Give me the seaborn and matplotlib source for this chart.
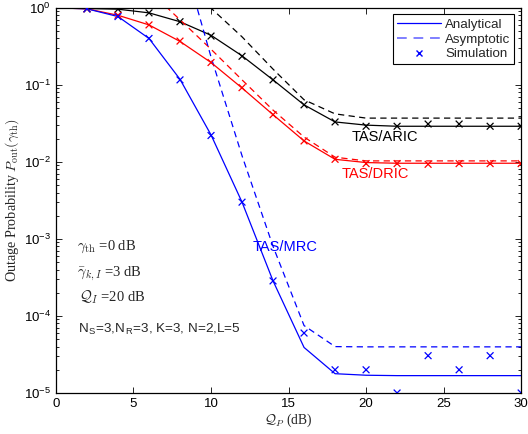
import numpy as np
import pandas as pd
import matplotlib
matplotlib.use("Agg")
import matplotlib.pyplot as plt
from matplotlib.lines import Line2D
import seaborn as sns

# Q_P grid (dB)
qp = [0, 2, 4, 6, 8, 10, 12, 14, 16, 18, 20, 22, 24, 26, 28, 30]
qp_sim = qp[1:]

schemes = ["TAS/ARIC", "TAS/DRIC", "TAS/MRC"]

# Analytical outage probability
ana_aric = [0.999, 0.98, 0.96, 0.86, 0.66, 0.44, 0.238, 0.116, 0.055, 0.033,
            0.030, 0.029, 0.029, 0.029, 0.029, 0.029]
ana_dric = [0.999, 0.97, 0.80, 0.60, 0.366, 0.195, 0.091, 0.041, 0.0187, 0.0108,
            0.0098, 0.0096, 0.0096, 0.0096, 0.0096, 0.0096]
ana_mrc = [0.999, 0.97, 0.77, 0.40, 0.118, 0.0224, 0.0030, 2.85e-4, 3.9e-5, 1.78e-5,
           1.70e-5, 1.68e-5, 1.68e-5, 1.68e-5, 1.68e-5, 1.68e-5]

# Asymptotic (high-SNR) outage probability
asy_aric = [100.0, 40.0, 16.0, 6.3, 2.5, 0.99, 0.42, 0.16, 0.064, 0.042,
            0.037, 0.037, 0.037, 0.037, 0.037, 0.037]
asy_dric = [24.0, 10.0, 4.0, 1.67, 0.70, 0.29, 0.116, 0.047, 0.021, 0.0115,
            0.0103, 0.0103, 0.0103, 0.0103, 0.0103, 0.0103]
asy_mrc = [1e6, 3e4, 2000.0, 110.0, 6.0, 0.23, 0.012, 8.0e-4, 7.5e-5, 4.0e-5,
           3.97e-5, 3.97e-5, 3.97e-5, 3.97e-5, 3.97e-5, 3.97e-5]

# Monte-Carlo simulation
sim_aric = [0.97, 0.96, 0.86, 0.66, 0.43, 0.235, 0.116, 0.055, 0.033, 0.029,
            0.029, 0.031, 0.031, 0.029, 0.029]
sim_dric = [0.97, 0.80, 0.60, 0.37, 0.195, 0.092, 0.041, 0.0187, 0.0108, 0.0095,
            0.0095, 0.0093, 0.0095, 0.0095, 0.0095]
sim_mrc = [0.97, 0.77, 0.40, 0.116, 0.022, 0.0030, 2.85e-4, 6.0e-5, 2.0e-5, 2.0e-5,
           1.0e-5, 3.05e-5, 2.0e-5, 3.05e-5, 1.0e-5]

palette = {"TAS/ARIC": "black", "TAS/DRIC": "#ff0000", "TAS/MRC": "#0000ff"}


def long_form(x, series):
    rows = []
    for name, vals in zip(schemes, series):
        for xv, yv in zip(x, vals):
            rows.append((xv, yv, name))
    return pd.DataFrame(rows, columns=["QP", "Pout", "scheme"])


df_ana = long_form(qp, [ana_aric, ana_dric, ana_mrc])
df_asy = long_form(qp, [asy_aric, asy_dric, asy_mrc])
df_sim = long_form(qp_sim, [sim_aric, sim_dric, sim_mrc])

sns.set_style("ticks")
plt.rcParams["font.family"] = ["Liberation Sans", "DejaVu Sans"]
plt.rcParams["mathtext.fontset"] = "cm"
plt.rcParams["font.size"] = 9
plt.rcParams["lines.dashed_pattern"] = [5.0, 3.5]

fig = plt.figure(figsize=(5.28, 4.34), dpi=100)
ax = fig.add_axes([0.106, 0.0945, 0.881, 0.8875])

sns.lineplot(data=df_ana, x="QP", y="Pout", hue="scheme", palette=palette,
             lw=0.9, legend=False, ax=ax, estimator=None)
sns.lineplot(data=df_asy, x="QP", y="Pout", hue="scheme", palette=palette,
             lw=0.9, linestyle="--", legend=False, ax=ax, estimator=None)
sns.scatterplot(data=df_sim, x="QP", y="Pout", hue="scheme", palette=palette,
                marker="x", s=24, linewidth=0.9, legend=False, ax=ax, zorder=5)

ax.set_yscale("log")
ax.set_xlim(0, 30)
ax.set_ylim(1e-5, 1)
ax.set_xticks([0, 5, 10, 15, 20, 25, 30])
ax.tick_params(axis="both", which="both", direction="in", top=True, right=True,
               labelsize=9.5, colors="black", width=0.6)
ax.tick_params(axis="both", which="major", length=4)
ax.tick_params(axis="y", which="minor", length=2)
ax.tick_params(axis="x", which="minor", bottom=False, top=False)
for sp in ax.spines.values():
    sp.set_linewidth(0.9)
    sp.set_color("black")

ax.set_xlabel(r"$\mathcal{Q}_P$ (dB)", fontfamily="Liberation Serif", fontsize=9.8,
              labelpad=1)
ax.set_ylabel(r"Outage Probability $P_{\rm out}(\gamma_{\rm th})$",
              fontfamily="Liberation Serif", fontsize=10.2, labelpad=2)

# Curve labels
ax.text(21.2, 0.0211, "TAS/ARIC", color="black", fontsize=10.5, ha="center", va="center")
ax.text(20.6, 0.00698, "TAS/DRIC", color="#ff0000", fontsize=10.5, ha="center", va="center")
ax.text(14.8, 7.9e-4, "TAS/MRC", color="#0000ff", fontsize=10.5, ha="center", va="center")

# System parameters
ax.text(1.35, 7.9e-4, r"$\gamma_{\rm th}$ =0 dB", fontfamily="Liberation Serif",
        fontsize=10.5, ha="left", va="center")
ax.text(1.35, 3.5e-4, r"$\bar{\gamma}_{k,I}$ =3 dB", fontfamily="Liberation Serif",
        fontsize=10.5, ha="left", va="center")
ax.text(1.5, 1.77e-4, r"$\mathcal{Q}_I$ =20 dB", fontfamily="Liberation Serif",
        fontsize=10.5, ha="left", va="center")
ax.text(1.4, 6.6e-5,
        r"N$_{\mathregular{S}}$=3,N$_{\mathregular{R}}$=3, K=3, N=2,L=5",
        fontsize=9.7, ha="left", va="center")

handles = [
    Line2D([], [], color="#0000ff", lw=0.9),
    Line2D([], [], color="#7f7fff", lw=1.4, linestyle="--"),
    Line2D([], [], color="#0000ff", marker="x", linestyle="none", markersize=4.5),
]
leg = ax.legend(handles, ["Analytical", "Asymptotic", "Simulation"], loc="upper right",
                fontsize=9.6, frameon=True, fancybox=False, edgecolor="black",
                framealpha=1, handlelength=3.3, borderpad=0.3, labelspacing=0.18,
                handletextpad=0.3, borderaxespad=0.5)
leg.get_frame().set_linewidth(0.8)

fig.savefig("out.png", dpi=100)
